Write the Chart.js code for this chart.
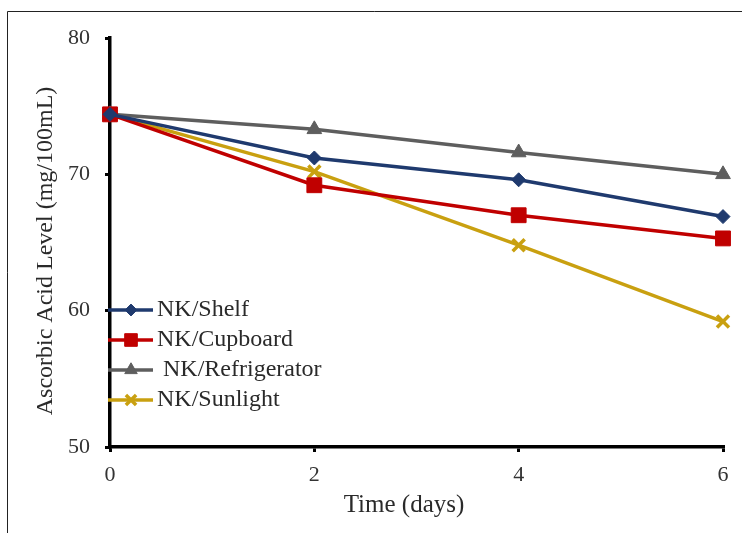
<!DOCTYPE html>
<html>
<head>
<meta charset="utf-8">
<script src="https://cdn.jsdelivr.net/npm/chart.js@4/dist/chart.umd.min.js"></script>
<style>
  html, body { margin: 0; padding: 0; background: #fff; }
  #wrap { position: relative; width: 742px; height: 533px; }
</style>
</head>
<body>
<div id="wrap"><canvas id="chart" width="742" height="533"></canvas></div>
<script>
// data
const days = [0, 2, 4, 6];
const shelf = [74.4, 71.2, 69.6, 66.9];
const cupboard = [74.4, 69.2, 67.0, 65.3];
const refrigerator = [74.4, 73.3, 71.6, 70.0];
const sunlight = [74.4, 70.2, 64.8, 59.2];
const seriesNames = ["NK/Shelf", "NK/Cupboard", " NK/Refrigerator", "NK/Sunlight"];
const yTicks = [50, 60, 70, 80];

const SERIF = "'Liberation Serif', 'DejaVu Serif', serif";

const pts = vals => days.map((d, i) => ({ x: d, y: vals[i] }));

function makeSet(label, vals, color, style, radius, pbw) {
  return {
    label,
    data: pts(vals),
    borderColor: color,
    backgroundColor: color,
    borderWidth: 3.5,
    pointStyle: style,
    pointRadius: radius,
    pointBorderWidth: pbw,
    pointBorderColor: color,
    pointBackgroundColor: color,
    clip: false,
    tension: 0
  };
}

const datasets = [
  makeSet(seriesNames[0], shelf, "#1f3a6e", "rectRot", 7, 1),
  makeSet(seriesNames[1], cupboard, "#c00000", "rect", 10.5, 1),
  makeSet(seriesNames[2], refrigerator, "#5e5e5e", "triangle", 8.5, 1),
  makeSet(seriesNames[3], sunlight, "#c9a010", "crossRot", 8.5, 3.5)
];

// frame lines + axis titles + legend drawn over the plot
const decor = {
  id: "decor",
  beforeDraw(chart) {
    const c = chart.ctx;
    c.save();
    c.strokeStyle = "#222";
    c.lineWidth = 1;
    c.beginPath();
    c.moveTo(7.5, 533);
    c.lineTo(7.5, 11.5);
    c.lineTo(742, 11.5);
    c.stroke();
    c.restore();
  },
  afterDraw(chart) {
    const c = chart.ctx;
    c.save();
    c.fillStyle = "#2a2a2a";
    c.font = "25px " + SERIF;
    c.textAlign = "center";
    c.textBaseline = "middle";
    c.fillText("Time (days)", 404, 505);
    c.translate(46, 251);
    c.rotate(-Math.PI / 2);
    c.font = "24px " + SERIF;
    c.fillText("Ascorbic Acid Level (mg/100mL)", 0, 0);
    c.restore();

    // legend
    const rows = [310, 340, 370, 400];
    chart.data.datasets.forEach((ds, i) => {
      const y = rows[i];
      c.save();
      c.strokeStyle = ds.borderColor;
      c.fillStyle = ds.borderColor;
      c.lineWidth = 3.5;
      c.beginPath();
      c.moveTo(108, y);
      c.lineTo(153, y);
      c.stroke();
      c.lineWidth = ds.pointBorderWidth;
      Chart.helpers.drawPoint(c, {
        pointStyle: ds.pointStyle,
        radius: ds.pointRadius * 0.85,
        borderWidth: ds.pointBorderWidth
      }, 131, y);
      c.fillStyle = "#2a2a2a";
      c.font = "24px " + SERIF;
      c.textAlign = "left";
      c.textBaseline = "middle";
      c.fillText(ds.label, 157, y);
      c.restore();
    });
  }
};

new Chart(document.getElementById("chart"), {
  type: "line",
  data: { datasets },
  plugins: [decor],
  options: {
    responsive: false,
    animation: false,
    layout: { padding: { left: 0, top: 38, right: 19, bottom: 0 } },
    plugins: { legend: { display: false }, tooltip: { enabled: false } },
    scales: {
      x: {
        type: "linear",
        min: 0,
        max: 6,
        afterFit: s => { s.height = 86; },
        afterBuildTicks: s => { s.ticks = days.filter(d => d % 2 === 0).map(v => ({ value: v })); },
        ticks: { color: "#333", font: { family: SERIF, size: 22 }, padding: 10 },
        grid: { drawOnChartArea: false, drawTicks: true, tickLength: 5, color: "#000", lineWidth: 3 },
        border: { color: "#000", width: 3.5 }
      },
      y: {
        min: 50,
        max: 80,
        afterFit: s => { s.width = 110; },
        afterBuildTicks: s => { s.ticks = yTicks.map(v => ({ value: v })); },
        ticks: { color: "#333", font: { family: SERIF, size: 22 }, padding: 15 },
        grid: { drawOnChartArea: false, drawTicks: true, tickLength: 5, color: "#000", lineWidth: 3 },
        border: { color: "#000", width: 3.5 }
      }
    }
  }
});
</script>
</body>
</html>
